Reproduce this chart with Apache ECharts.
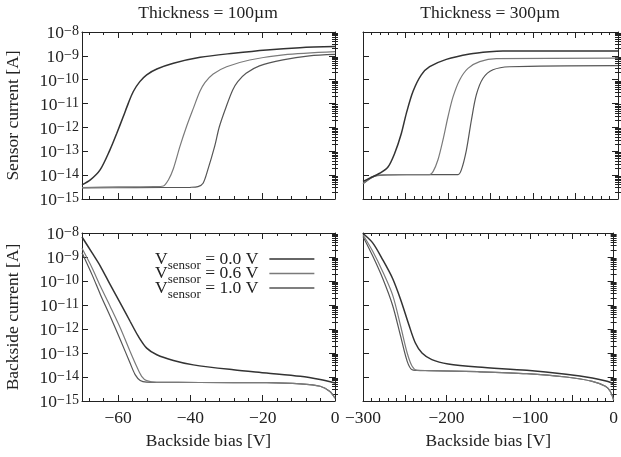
<!DOCTYPE html>
<html>
<head>
<meta charset="utf-8">
<script src="https://cdn.jsdelivr.net/npm/echarts@6/dist/echarts.min.js"></script>
<style>
  html, body { margin: 0; padding: 0; background: #fff; }
  #chart { width: 621px; height: 457px; }
</style>
</head>
<body>
<div id="chart"></div>
<script>
// ---- data (bias in V, current in A) ----
const legendNames = ["0.0", "0.6", "1.0"];

// sensor current, thickness 100um
const sensor100_v00 = [[-70, 3.9e-15], [-67.7, 6.3e-15], [-65, 1.66e-14], [-62.3, 1.12e-13], [-60.4, 5.6e-13], [-58.6, 2.8e-12], [-57.2, 1.02e-11], [-55.8, 3.2e-11], [-54, 8.3e-11], [-52.1, 1.6e-10], [-49.3, 2.8e-10], [-44.7, 4.9e-10], [-37.3, 8.7e-10], [-28.1, 1.29e-9], [-18.9, 1.78e-9], [-9.7, 2.2e-9], [0, 2.45e-9]];
const sensor100_v06 = [[-70, 3.0e-15], [-60, 3.2e-15], [-50, 3.3e-15], [-47.5, 3.5e-15], [-46.1, 6.3e-15], [-44.7, 1.9e-14], [-42.9, 1.6e-13], [-41.1, 1.07e-12], [-39.2, 6.3e-12], [-37.4, 3.2e-11], [-36, 7.6e-11], [-33.7, 1.74e-10], [-30, 3.5e-10], [-23.6, 6.7e-10], [-14.3, 1.1e-9], [0, 1.5e-9]];
const sensor100_v10 = [[-70, 2.9e-15], [-55, 3.0e-15], [-40, 3.1e-15], [-37.9, 3.3e-15], [-36.5, 4.6e-15], [-35.2, 1.66e-14], [-33.3, 1.6e-13], [-32, 1.07e-12], [-30.1, 7.4e-12], [-28.3, 3.7e-11], [-26.9, 8.3e-11], [-24.6, 1.86e-10], [-20.9, 3.8e-10], [-14.4, 6.8e-10], [-7.1, 1.0e-9], [0, 1.15e-9]];

// sensor current, thickness 300um
const sensor300_v00 = [[-300, 5.4e-15], [-292.2, 7.4e-15], [-280.4, 1.2e-14], [-270.6, 2.2e-14], [-262.7, 8.3e-14], [-254.9, 5.6e-13], [-249, 3.9e-12], [-241.2, 3.2e-11], [-231.4, 1.6e-10], [-221.6, 3.5e-10], [-202, 7.1e-10], [-174.5, 1.2e-9], [-151, 1.5e-9], [-135.3, 1.6e-9], [0, 1.6e-9]];
const sensor300_v06 = [[-300, 4.5e-15], [-288.2, 8.7e-15], [-276.5, 1.02e-14], [-250, 1.05e-14], [-221.6, 1.06e-14], [-217.6, 1.4e-14], [-211.8, 4.4e-14], [-205.9, 3.0e-13], [-200, 2.8e-12], [-194.1, 1.9e-11], [-186.3, 9.8e-11], [-176.5, 3.0e-10], [-162.7, 5.7e-10], [-143.1, 7.6e-10], [0, 8.0e-10]];
const sensor300_v10 = [[-300, 4.3e-15], [-288.2, 8.5e-15], [-276.5, 1.0e-14], [-240, 1.04e-14], [-188.2, 1.06e-14], [-184.3, 1.66e-14], [-178.4, 1.1e-13], [-172.5, 2.0e-12], [-166.7, 2.3e-11], [-158.8, 1.15e-10], [-147.1, 2.6e-10], [-127.5, 3.5e-10], [0, 3.9e-10]];

// backside current, thickness 100um
const back100_v00 = [[-70, 6.8e-9], [-67.2, 1.48e-9], [-64.9, 4.1e-10], [-62.2, 7.0e-11], [-59.4, 1.2e-11], [-56.7, 2.1e-12], [-54.4, 4.9e-13], [-52.1, 1.6e-13], [-49.3, 8.5e-14], [-44.7, 4.9e-14], [-39.2, 3.2e-14], [-28.1, 2.0e-14], [-18.9, 1.47e-14], [-9.6, 1.07e-14], [-4.1, 7.8e-15], [0, 5.6e-15]];
const back100_v06 = [[-70, 2.3e-9], [-67.2, 3.5e-10], [-64.9, 6.0e-11], [-62.2, 8.7e-12], [-59.4, 1.1e-12], [-56.7, 1.17e-13], [-54.9, 2.8e-14], [-53.5, 1.07e-14], [-52.1, 7.1e-15], [-49.3, 6.0e-15], [-37.4, 5.9e-15], [-18.9, 5.8e-15], [-9.6, 5.2e-15], [-4.1, 4.1e-15], [-1.4, 2.5e-15], [0, 1.3e-15]];
const back100_v10 = [[-70, 1.5e-9], [-67.2, 1.8e-10], [-64.9, 2.7e-11], [-62.2, 3.4e-12], [-59.4, 3.6e-13], [-56.7, 3.8e-14], [-55.3, 1.26e-14], [-53.9, 7.2e-15], [-52.1, 6.1e-15], [-49.3, 6.0e-15], [-37.4, 5.9e-15], [-18.9, 5.8e-15], [-9.6, 5.2e-15], [-4.1, 4.1e-15], [-1.4, 2.5e-15], [0, 1.3e-15]];

// backside current, thickness 300um
const back300_v00 = [[-300, 9.5e-9], [-288.2, 3.8e-9], [-276.5, 7.8e-10], [-264.7, 1.3e-10], [-254.9, 1.66e-11], [-245.1, 1.5e-12], [-237.3, 2.6e-13], [-229.4, 1.0e-13], [-217.6, 5.3e-14], [-198, 3.5e-14], [-162.7, 2.6e-14], [-103.9, 1.9e-14], [-56.9, 1.3e-14], [-25.5, 9.1e-15], [-7.8, 6.6e-15], [0, 5.2e-15]];
const back300_v06 = [[-300, 8.5e-9], [-288.2, 1.7e-9], [-276.5, 2.5e-10], [-264.7, 2.7e-11], [-254.9, 1.3e-12], [-247.1, 1.0e-13], [-241.2, 2.8e-14], [-235.3, 1.9e-14], [-221.6, 1.85e-14], [-162.7, 1.66e-14], [-103.9, 1.38e-14], [-56.9, 1.0e-14], [-25.5, 6.6e-15], [-9.8, 4.1e-15], [-3.9, 2.5e-15], [0, 1.1e-15]];
const back300_v10 = [[-300, 7.2e-9], [-288.2, 1.07e-9], [-276.5, 1.3e-10], [-264.7, 1.0e-11], [-254.9, 4.9e-13], [-247.1, 4.5e-14], [-241.2, 2.0e-14], [-235.3, 1.9e-14], [-221.6, 1.85e-14], [-162.7, 1.66e-14], [-103.9, 1.38e-14], [-56.9, 1.0e-14], [-25.5, 6.6e-15], [-9.8, 4.1e-15], [-3.9, 2.5e-15], [0, 1.1e-15]];

// ticks
const ticks100Major = [-60, -40, -20, 0];
const ticks100Minor = [-68, -64, -56, -52, -48, -44, -36, -32, -28, -24, -16, -12, -8, -4];
const ticks300Major = [-300, -250, -200, -150, -100, -50, 0];
const ticks300Minor = [-290, -280, -270, -260, -240, -230, -220, -210, -190, -180, -170, -160, -140, -130, -120, -110, -90, -80, -70, -60, -40, -30, -20, -10];
const ticks300Labels = [-300, -200, -100, 0];
const yDecades = [1e-15, 1e-14, 1e-13, 1e-12, 1e-11, 1e-10, 1e-9, 1e-8];

const yMinor = [];
for (let n = -15; n < -8; n++) {
  for (let k = 2; k <= 9; k++) yMinor.push(k * Math.pow(10, n));
}

const FONT = "'Liberation Serif', 'Times New Roman', serif";
const INK = "#222";
const lineColors = ["#333333", "#7a7a7a", "#555555"];
const lineWidths = [1.5, 1.2, 1.2];

const grids = [
  { left: 82, top: 32, width: 253, height: 167 },
  { left: 363, top: 32, width: 255, height: 167 },
  { left: 82, top: 233, width: 253, height: 168 },
  { left: 363, top: 233, width: 255, height: 168 },
];

const fmtX = (v) => (v < 0 ? "\u2212" + -v : "" + v);
const fmtY = (v) => {
  const e = Math.round(Math.log10(v));
  return "{b|10}{s|\u2212" + -e + "}";
};

function makeXAxes(g, min, max, major, minor, labels, showLabels) {
  const base = { type: "value", gridIndex: g, min: min, max: max, splitLine: { show: false } };
  const line = { show: true, onZero: false, lineStyle: { color: INK, width: 1 } };
  return [
    Object.assign({}, base, {
      position: "bottom",
      axisLine: line,
      axisTick: { show: true, inside: true, length: 6, customValues: major, lineStyle: { color: INK } },
      axisLabel: {
        show: showLabels, customValues: labels, formatter: fmtX, margin: 8,
        fontFamily: FONT, fontSize: 17.5, color: INK,
      },
      name: showLabels ? "Backside bias [V]" : "",
      nameLocation: "middle", nameGap: 31,
      nameTextStyle: { fontFamily: FONT, fontSize: 17.5, color: INK },
    }),
    Object.assign({}, base, {
      position: "bottom",
      axisLine: { show: false },
      axisTick: { show: true, inside: true, length: 3, customValues: minor, lineStyle: { color: INK } },
      axisLabel: { show: false },
    }),
    Object.assign({}, base, {
      position: "top",
      axisLine: line,
      axisTick: { show: true, inside: true, length: 6, customValues: major, lineStyle: { color: INK } },
      axisLabel: { show: false },
    }),
    Object.assign({}, base, {
      position: "top",
      axisLine: { show: false },
      axisTick: { show: true, inside: true, length: 3, customValues: minor, lineStyle: { color: INK } },
      axisLabel: { show: false },
    }),
  ];
}

function makeYAxes(g, name, showLabels) {
  const base = { type: "log", logBase: 10, gridIndex: g, min: 1e-15, max: 1e-8, splitLine: { show: false } };
  const line = { show: true, onZero: false, lineStyle: { color: INK, width: 1 } };
  return [
    Object.assign({}, base, {
      position: "left",
      axisLine: line,
      axisTick: { show: true, inside: true, length: 6, customValues: yDecades, lineStyle: { color: INK } },
      axisLabel: {
        show: showLabels, customValues: yDecades, formatter: fmtY, margin: 3,
        padding: [3, 0, 0, 0],
        rich: {
          b: { fontFamily: FONT, fontSize: 17.5, color: INK, lineHeight: 18, padding: [3, 0, 0, 0], verticalAlign: "bottom" },
          s: { fontFamily: FONT, fontSize: 14, color: INK, lineHeight: 14, verticalAlign: "top" },
        },
      },
      name: name,
      nameLocation: "middle", nameGap: 60, nameRotate: 90,
      nameTextStyle: { fontFamily: FONT, fontSize: 17.5, color: INK },
    }),
    Object.assign({}, base, {
      position: "left",
      axisLine: { show: false },
      axisTick: { show: true, inside: true, length: 3, customValues: yMinor, lineStyle: { color: INK } },
      axisLabel: { show: false },
    }),
    Object.assign({}, base, {
      position: "right",
      axisLine: line,
      axisTick: { show: true, inside: true, length: 6, customValues: yDecades, lineStyle: { color: INK } },
      axisLabel: { show: false },
    }),
    Object.assign({}, base, {
      position: "right",
      axisLine: { show: false },
      axisTick: { show: true, inside: true, length: 3, customValues: yMinor, lineStyle: { color: INK } },
      axisLabel: { show: false },
    }),
  ];
}

const xAxes = [].concat(
  makeXAxes(0, -70, 0, ticks100Major, ticks100Minor, ticks100Major, false),
  makeXAxes(1, -300, 0, ticks300Major, ticks300Minor, ticks300Labels, false),
  makeXAxes(2, -70, 0, ticks100Major, ticks100Minor, ticks100Major, true),
  makeXAxes(3, -300, 0, ticks300Major, ticks300Minor, ticks300Labels, true)
);
const yAxes = [].concat(
  makeYAxes(0, "Sensor current [A]", true),
  makeYAxes(1, "", false),
  makeYAxes(2, "Backside current [A]", true),
  makeYAxes(3, "", false)
);

const panels = [
  [sensor100_v00, sensor100_v06, sensor100_v10],
  [sensor300_v00, sensor300_v06, sensor300_v10],
  [back100_v00, back100_v06, back100_v10],
  [back300_v00, back300_v06, back300_v10],
];

const series = [];
panels.forEach((curves, g) => {
  curves.forEach((data, i) => {
    series.push({
      type: "line",
      name: legendNames[i],
      xAxisIndex: g * 4,
      yAxisIndex: g * 4,
      data: data,
      symbol: "none",
      smooth: 0.3,
      clip: true,
      lineStyle: { color: lineColors[i], width: lineWidths[i] },
      itemStyle: { color: lineColors[i] },
      z: 3 - i,
    });
  });
});

const chart = echarts.init(document.getElementById("chart"), null, { renderer: "canvas" });
chart.setOption({
  animation: false,
  backgroundColor: "#fff",
  grid: grids,
  xAxis: xAxes,
  yAxis: yAxes,
  legend: {
    data: legendNames,
    orient: "vertical",
    left: 150,
    top: 245,
    align: "right",
    icon: "rect",
    itemWidth: 45,
    itemHeight: 1.5,
    itemGap: -7.5,
    selectedMode: false,
    formatter: (n) => "{m|V}{s|sensor}{m| = " + n + " V}{g|}",
    textStyle: {
      fontFamily: FONT,
      rich: {
        m: { fontFamily: FONT, fontSize: 17.5, color: INK, lineHeight: 18, verticalAlign: "top" },
        s: { fontFamily: FONT, fontSize: 13, color: INK, lineHeight: 13, verticalAlign: "top", padding: [9, 0, 0, 0] },
        g: { width: 6 },
      },
    },
  },
  graphic: [
    {
      type: "text", x: 208, y: 13,
      style: { text: "Thickness = 100\u00b5m", fontFamily: FONT, fontSize: 17.5, fill: INK, align: "center", verticalAlign: "middle" },
    },
    {
      type: "text", x: 490, y: 13,
      style: { text: "Thickness = 300\u00b5m", fontFamily: FONT, fontSize: 17.5, fill: INK, align: "center", verticalAlign: "middle" },
    },
  ],
  series: series,
});
</script>
</body>
</html>
